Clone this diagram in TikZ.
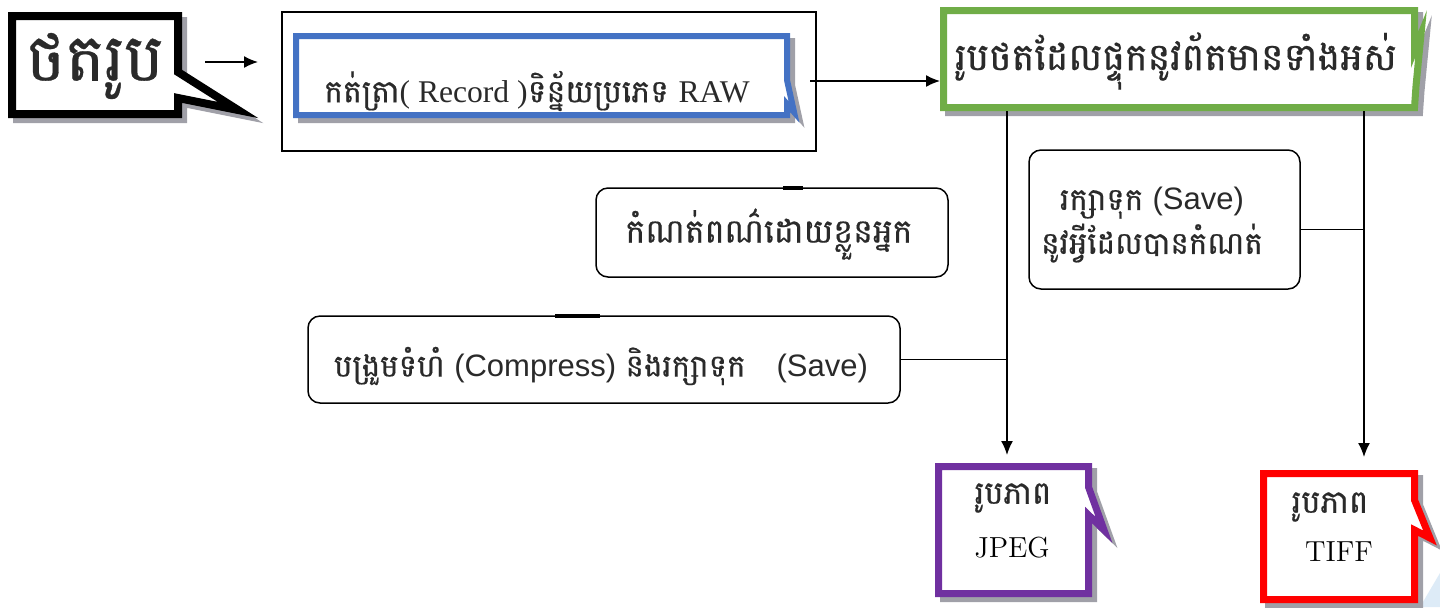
\documentclass[tikz,border=0pt]{standalone}
\usepackage{fontspec}
\newfontfamily\khmer[Script=Khmer, FakeBold=0.5]{Battambang}
\newfontfamily\lsans{Liberation Sans}
\newfontfamily\lserif{Liberation Serif}
\usetikzlibrary{arrows.meta,calc}
\definecolor{cblue}{HTML}{4472C4}
\definecolor{cgreen}{HTML}{70AD47}
\definecolor{cpurple}{HTML}{7030A0}
\definecolor{cred}{HTML}{FF0000}
\definecolor{cshadow}{HTML}{A0A0A8}
\definecolor{ctri}{HTML}{DDEBF7}
\definecolor{ctext}{HTML}{2A2A2A}
\tikzset{
  anchorbox/.style={inner sep=0pt, outer sep=0pt},
  txt/.style={inner sep=0pt, text=ctext},
  rbox/.style={draw, line width=0.75pt, rounded corners=6pt, inner sep=0pt},
  thin/.style={line width=0.75pt},
  arr/.style={line width=0.75pt, -{Latex[length=7pt,width=6pt]}},
  frame/.style={line width=#1, line join=miter, miter limit=20},
  shade/.style={cshadow, line width=#1, line join=miter, miter limit=20},
}
\begin{document}
\begin{tikzpicture}[x=0.5pt,y=-0.5pt]
\useasboundingbox[fill=white] (0,0) rectangle (1440,607);
\fill[ctri] (1420,607) -- (1440,573) -- (1440,607) -- cycle;

% ---------- callout: capture ----------
\begin{scope}[shift={(5,5)}]
\draw[shade=4pt] (12,16) -- (178,16) -- (178,72) -- (238,110) -- (178,98) -- (178,114) -- (12,114) -- cycle;
\end{scope}
\draw[frame=4pt, fill=white] (12,16) -- (178,16) -- (178,72) -- (238,110) -- (178,98) -- (178,114) -- (12,114) -- cycle;
\node[txt, font=\khmer\fontsize{33}{38}\selectfont] (cap) at (95,66) {ថតរូប};
\coordinate (a1) at (205,62);
\coordinate (a2) at (258,62);
\draw[arr] (a1) -- (a2);

% ---------- outer rectangle ----------
\node[draw, thin, anchorbox, minimum width=267pt, minimum height=69.5pt] (rec) at (549,81.5) {};

% ---------- blue box ----------
\node[anchorbox, minimum width=248.5pt, minimum height=42.5pt] (blue) at (541.5,75.5) {};
\begin{scope}[shift={(5,5)}]
\draw[shade=3pt] (296,36) -- (787,36) -- (787,80) -- (794,112) -- (787,104) -- (787,115) -- (296,115) -- cycle;
\end{scope}
\draw[frame=3pt, cblue, fill=white] (296,36) -- (787,36) -- (787,80) -- (794,112) -- (787,104) -- (787,115) -- (296,115) -- cycle;
\node[txt] (bluetext) at (537,91) {\fontsize{15.8}{18}\selectfont{\khmer កត់ត្រា}{\lserif( Record )}{\khmer ទិន្ន័យប្រភេទ} {\lserif RAW}};

% ---------- green box ----------
\node[anchorbox, minimum width=239pt, minimum height=52pt] (greenbox) at (1179,59) {};
\begin{scope}[shift={(5,5)}]
\draw[shade=3.5pt] (943.5,10.5) -- (1414.5,10.5) -- (1414.5,50) -- (1421,34) -- (1416,86) -- (1414.5,107.5) -- (943.5,107.5) -- cycle;
\end{scope}
\draw[frame=3.5pt, cgreen, fill=white] (943.5,10.5) -- (1414.5,10.5) -- (1414.5,50) -- (1421,34) -- (1416,86) -- (1414.5,107.5) -- (943.5,107.5) -- cycle;
\node[txt, font=\khmer\fontsize{19}{22}\selectfont] (greentext) at (1176,61) {រូបថតដែលផ្ទុកនូវព័តមានទាំងអស់};

\coordinate (b1) at (810,81);
\draw[arr] (b1) -- (b1 -| greenbox.west);

% ---------- rounded boxes ----------
\node[rbox, minimum width=176pt, minimum height=44.5pt] (color) at (772,232.5) {};
\node[txt, font=\khmer\fontsize{16.6}{20}\selectfont] (colortext) at (769,234) {កំណត់ពណ៌ដោយខ្លួនអ្នក};
\draw[line width=1.6pt] (783,188) -- (803,188);

\node[rbox, minimum width=135.5pt, minimum height=69.5pt] (save) at (1164.5,219.5) {};
\node[txt, align=center, font=\fontsize{15.5}{22}\selectfont] (savetext) at (1152,225) {{\khmer រក្សាទុក} {\lsans (Save)}\\{\khmer នូវអ្វីដែលបានកំណត់}};

\node[rbox, minimum width=296pt, minimum height=43.5pt] (comp) at (604,359.5) {};
\node[txt, font=\fontsize{15.5}{18}\selectfont] (comptext) at (601,366) {{\khmer បង្រួមទំហំ} {\lsans (Compress)} {\khmer និងរក្សាទុក}\quad{\lsans (Save)}};
\draw[line width=1.6pt] (555,316) -- (600,316);

% ---------- JPEG callout ----------
\node[anchorbox, minimum width=78.5pt, minimum height=67pt] (jpeg) at (1013.5,530) {};
\begin{scope}[shift={(5,5)}]
\draw[shade=3.5pt] (938.5,466.5) -- (1088.5,466.5) -- (1088.5,487) -- (1104,530) -- (1088.5,515) -- (1088.5,593.5) -- (938.5,593.5) -- cycle;
\end{scope}
\draw[frame=3.5pt, cpurple, fill=white] (938.5,466.5) -- (1088.5,466.5) -- (1088.5,487) -- (1104,530) -- (1088.5,515) -- (1088.5,593.5) -- (938.5,593.5) -- cycle;
\node[txt, font=\khmer\fontsize{16}{18}\selectfont] (jpegk) at (1013,498) {រូបភាព};
\node[inner sep=0pt, font=\fontsize{14.5}{16}\selectfont] (jpegl) at (1012,548) {JPEG};

% ---------- TIFF callout ----------
\node[anchorbox, minimum width=79pt, minimum height=66.5pt] (tiff) at (1339,536.5) {};
\begin{scope}[shift={(5,5)}]
\draw[shade=3.5pt] (1263.5,473.5) -- (1414.5,473.5) -- (1414.5,500) -- (1430,538) -- (1414.5,530) -- (1414.5,599.5) -- (1263.5,599.5) -- cycle;
\end{scope}
\draw[frame=3.5pt, cred, fill=white] (1263.5,473.5) -- (1414.5,473.5) -- (1414.5,500) -- (1430,538) -- (1414.5,530) -- (1414.5,599.5) -- (1263.5,599.5) -- cycle;
\node[txt, font=\khmer\fontsize{16}{18}\selectfont] (tiffk) at (1330,507) {រូបភាព};
\node[inner sep=0pt, font=\fontsize{14.5}{16}\selectfont] (tiffl) at (1339,552) {TIFF};

% ---------- connectors ----------
\coordinate (j1) at (1007,0);
\coordinate (t1) at (1364,0);
\draw[arr, shorten >=4pt] (greenbox.south -| j1) -- (jpeg.north -| j1);
\draw[arr, shorten >=6.5pt] (greenbox.south -| t1) -- (tiff.north -| t1);
\draw[thin] ([yshift=-5pt]save.east) -- ([yshift=-5pt]save.east -| t1);
\draw[thin] (comp.east) -- (comp.east -| j1);
\end{tikzpicture}
\end{document}
